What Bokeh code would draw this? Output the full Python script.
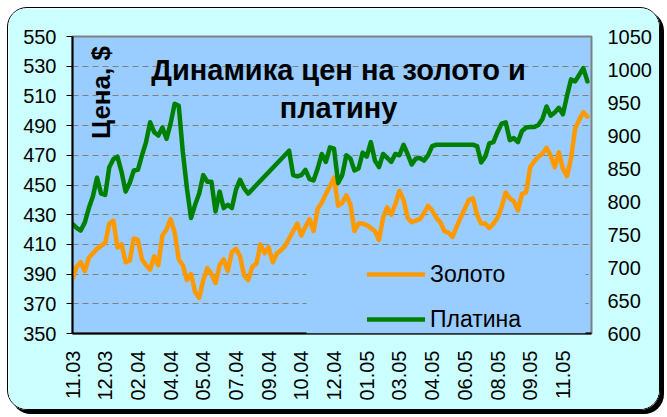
import math
from bokeh.plotting import figure
from bokeh.models import (Range1d, LinearAxis, FixedTicker, Label, Legend,
                          LegendItem, BoxAnnotation)
from bokeh.embed import file_html
from bokeh.resources import INLINE

# ---------------- data ----------------
x_labels = ["11.03", "12.03", "02.04", "04.04", "05.04", "07.04", "09.04", "10.04",
            "12.04", "01.05", "03.05", "04.05", "06.05", "08.05", "09.05", "11.05"]
LABEL_STEP = 8  # observations between two axis labels

gold = [
    387, 395, 398, 392, 401, 404, 407, 409, 411, 424,
    426, 408, 410, 398, 399, 414, 413, 400, 396, 393,
    402, 396, 416, 420, 427, 418, 400, 396, 386, 390,
    378, 374, 386, 394, 390, 384, 396, 400, 392, 405,
    407, 402, 389, 386, 395, 397, 410, 404, 408, 398,
    404, 406, 409, 414, 419, 424, 416, 422, 427, 419,
    434, 438, 444, 449, 455, 436, 438, 443, 437, 419,
    424, 424, 423, 421, 419, 413, 428, 435, 430, 437,
    446, 440, 428, 425, 426, 427, 431, 436, 433, 428,
    425, 419, 418, 415, 422, 428, 434, 440, 441, 430,
    424, 424, 421, 424, 428, 435, 445, 441, 439, 433,
    444, 445, 462, 466, 469, 471, 475, 470, 462, 472,
    461, 456, 468, 488, 494, 499, 496,
]

platinum = [
    766, 760, 756, 768, 790, 808, 836, 812, 810, 852,
    864, 868, 845, 815, 828, 847, 848, 870, 890, 920,
    905, 900, 912, 895, 918, 948, 945, 875, 820, 775,
    795, 812, 840, 830, 830, 785, 815, 790, 795, 790,
    818, 833, 820, 812, None, None, None, None, None, None,
    None, None, None, 877, 840, 838, 840, 848, 834, 832,
    850, 872, 860, 882, 880, 828, 840, 870, 865, 847,
    850, 874, 868, 890, 862, 852, 872, 866, 860, 872,
    870, 886, 872, 856, 865, 866, 862, 870, 884, 886,
    None, None, None, None, None, None, None, None, 886, 884,
    859, 868, 888, 890, 905, 918, 920, 893, 896, 890,
    907, 912, 913, 913, 916, 925, 944, 930, 935, 942,
    932, 960, 985, 982, 992, 1002, 982,
]

gold_ticks = list(range(350, 551, 20))
pt_ticks = list(range(600, 1051, 50))

# ---------------- layout constants ----------------
FONT = "Liberation Sans"
FRAME_W, FRAME_H = 519, 297
FRAME_LEFT_PX, FRAME_TOP_PX = 72, 36   # frame corner in page pixels
X_END = 127.0
G_MIN, G_MAX = gold_ticks[0], gold_ticks[-1]


def px_x(px):
    return (px - FRAME_LEFT_PX) / FRAME_W * X_END


def px_y(py):
    return G_MAX - (py - FRAME_TOP_PX) / FRAME_H * (G_MAX - G_MIN)


gold_x = list(range(len(gold)))
pt_x = [i for i, v in enumerate(platinum) if v is not None]
pt_y = [v for v in platinum if v is not None]

p = figure(frame_width=FRAME_W, frame_height=FRAME_H,
           x_range=Range1d(0, X_END), y_range=Range1d(G_MIN, G_MAX),
           output_backend="svg", toolbar_location=None,
           min_border_left=64, min_border_right=68,
           min_border_top=28, min_border_bottom=76)
p.extra_y_ranges = {"pt": Range1d(pt_ticks[0], pt_ticks[-1])}

p.background_fill_color = "#99CCFF"
p.border_fill_color = "#CCFFFF"
p.outline_line_color = "#808080"
p.outline_line_width = 2
p.styles = {"border": "1px solid #000000", "border-radius": "20px",
            "box-shadow": "4px 4px 0px #000000", "overflow": "hidden",
            "margin-left": "7px", "margin-top": "7px"}

# left axis
ya = p.yaxis[0]
ya.ticker = FixedTicker(ticks=gold_ticks)
ya.axis_line_color = "#000000"
ya.axis_line_width = 2
ya.major_tick_out = 6
ya.major_tick_in = 0
ya.major_tick_line_color = "#000000"
ya.minor_tick_line_color = None
ya.major_label_text_font = FONT
ya.major_label_text_font_size = "20px"
ya.major_label_text_color = "#000000"
ya.major_label_standoff = 10

# bottom axis
xa = p.xaxis[0]
xa.ticker = FixedTicker(ticks=[i * LABEL_STEP for i in range(len(x_labels))])
xa.major_label_overrides = {i * LABEL_STEP: lab for i, lab in enumerate(x_labels)}
xa.major_label_orientation = math.pi / 2
xa.axis_line_color = "#000000"
xa.axis_line_width = 2
xa.major_tick_out = 0
xa.major_tick_in = 0
xa.major_tick_line_color = None
xa.minor_tick_line_color = None
xa.major_label_text_font = FONT
xa.major_label_text_font_size = "20px"
xa.major_label_text_color = "#000000"
xa.major_label_standoff = 17

# right axis
ra = LinearAxis(y_range_name="pt", ticker=FixedTicker(ticks=pt_ticks))
ra.axis_line_color = None
ra.major_tick_line_color = None
ra.major_tick_out = 0
ra.major_tick_in = 0
ra.minor_tick_line_color = None
ra.major_label_text_font = FONT
ra.major_label_text_font_size = "20px"
ra.major_label_text_color = "#000000"
ra.major_label_standoff = 16
p.add_layout(ra, "right")

# grid
p.xgrid.visible = False
p.ygrid.grid_line_color = "#808080"
p.ygrid.grid_line_dash = "6 4"
p.ygrid.grid_line_width = 1

# series
r_gold = p.line(gold_x, gold, line_color="#FF9900", line_width=4.5,
                line_join="round", line_cap="round")
r_pt = p.line(pt_x, pt_y, y_range_name="pt", line_color="#008000",
              line_width=4.5, line_join="round", line_cap="round")

# legend area (opaque, hides the grid like the original)
cover = BoxAnnotation(left=px_x(306), right=px_x(585), top=px_y(258), bottom=G_MIN,
                      fill_color="#99CCFF", fill_alpha=1.0, line_color=None)
p.add_layout(cover)

legend = Legend(items=[LegendItem(label="Золото", renderers=[r_gold]),
                       LegendItem(label="Платина", renderers=[r_pt])],
                location=(295, 0), glyph_width=58, glyph_height=28,
                label_standoff=5, spacing=17, padding=0, margin=0,
                border_line_color=None, background_fill_alpha=0,
                label_text_font=FONT, label_text_font_size="23px",
                label_text_color="#000000")
p.add_layout(legend)

# title inside the plot area
for txt, base_py in (("Динамика цен на золото и", 69.5), ("платину", 107)):
    p.add_layout(Label(x=px_x(338), y=px_y(base_py), text=txt,
                       text_font=FONT, text_font_style="bold",
                       text_font_size="29px", text_align="center",
                       text_baseline="alphabetic", text_color="#000000"))

# value axis title, rotated, inside the plot area
p.add_layout(Label(x=px_x(100), y=px_y(92), text="Цена, $", angle=math.pi / 2,
                   text_font=FONT, text_font_style="bold", text_font_size="26px",
                   text_align="center", text_baseline="middle",
                   text_color="#000000"))

open("out.html", "w").write(file_html(p, INLINE))
